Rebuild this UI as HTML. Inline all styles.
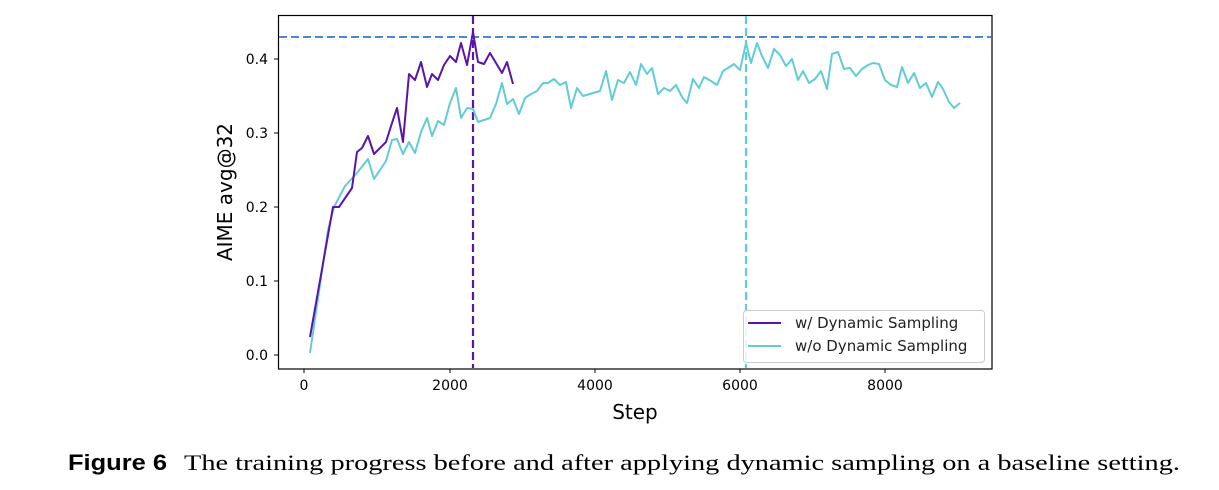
<!DOCTYPE html>
<html><head><meta charset="utf-8"><style>
html,body{margin:0;padding:0;background:#fff;width:1219px;height:490px;overflow:hidden}
</style></head><body>
<svg width="1219" height="490" viewBox="0 0 1219 490" xmlns="http://www.w3.org/2000/svg">
<g font-family="'DejaVu Sans',sans-serif" font-size="14" fill="#000">
<rect x="278.5" y="15.5" width="713.5" height="353.5" fill="none" stroke="#000" stroke-width="1.2"/>
<g stroke="#000" stroke-width="1">
<line x1="274" y1="355" x2="278" y2="355"/><line x1="274" y1="281" x2="278" y2="281"/>
<line x1="274" y1="207" x2="278" y2="207"/><line x1="274" y1="133" x2="278" y2="133"/>
<line x1="274" y1="59" x2="278" y2="59"/>
<line x1="304" y1="369" x2="304" y2="373"/><line x1="450" y1="369" x2="450" y2="373"/>
<line x1="595" y1="369" x2="595" y2="373"/><line x1="740" y1="369" x2="740" y2="373"/>
<line x1="885" y1="369" x2="885" y2="373"/>
</g>
<g text-anchor="end">
<text x="268" y="360">0.0</text><text x="268" y="286">0.1</text><text x="268" y="212">0.2</text>
<text x="268" y="138">0.3</text><text x="268" y="64">0.4</text>
</g>
<g text-anchor="middle">
<text x="304" y="390">0</text><text x="450" y="390">2000</text><text x="595" y="390">4000</text>
<text x="740" y="390">6000</text><text x="885" y="390">8000</text>
<text x="635" y="419" font-size="20">Step</text>
<text transform="translate(232,192) rotate(-90)" font-size="20">AIME avg@32</text>
</g>
<line x1="279" y1="37" x2="991" y2="37" stroke="#4a88dc" stroke-width="2" stroke-dasharray="8,4"/>
<line x1="473" y1="16" x2="473" y2="368" stroke="#5b14a8" stroke-width="2.2" stroke-dasharray="8,4"/>
<line x1="746" y1="16" x2="746" y2="368" stroke="#62ccd6" stroke-width="2.2" stroke-dasharray="8,4"/>
<polyline fill="none" stroke="#62ccd6" stroke-width="2" stroke-linejoin="round" points="310,353 328,230 334,207 345,186 357,173 368,159 374,179 386,161 392,140 397,139 403,154 409,142 415,153 421,132 427,118 432,136 438,121 444,125 450,103 456,88 461,118 467,108 473,109 478,122 490,118 496,104 502,83 507,104 513,99 519,114 525,98 531,94 537,91 543,83 548,83 554,79 560,85 566,82 571,108 577,88 583,96 600,91 606,71 612,100 618,80 624,83 630,72 636,85 641,64 647,74 652,68 658,94 664,88 670,91 676,85 682,97 687,103 693,79 699,88 704,77 711,81 717,85 723,71 728,68 734,64 740,70 746,43 751,63 757,43 762,56 768,68 774,49 780,55 786,66 792,59 798,80 803,71 809,83 815,79 821,71 827,89 832,54 838,52 844,69 850,68 856,76 862,69 868,65 873,63 879,64 885,80 891,85 897,87 902,67 908,83 914,73 920,88 926,83 932,97 938,82 943,89 949,102 954,108 960,103"/>
<polyline fill="none" stroke="#5b14a8" stroke-width="2" stroke-linejoin="round" points="310,337 333,207 339,207 352,188 357,152 362,148 368,136 374,154 386,142 392,123 397,108 403,142 409,74 415,80 421,62 427,87 432,74 438,80 444,65 450,56 456,62 461,43 467,65 473,32 478,62 484,64 490,53 496,63 502,73 507,62 513,84"/>
<rect x="743.5" y="310.5" width="241" height="52" rx="3" fill="#fff" fill-opacity="0.85" stroke="#ccc"/>
<line x1="748" y1="323" x2="781" y2="323" stroke="#5b14a8" stroke-width="2"/>
<line x1="748" y1="346" x2="781" y2="346" stroke="#62ccd6" stroke-width="2"/>
<text x="795" y="328" font-size="15" fill="#222">w/ Dynamic Sampling</text>
<text x="795" y="351" font-size="15" fill="#222">w/o Dynamic Sampling</text>
</g>
<text x="68" y="470" font-size="22" font-family="'Liberation Sans',sans-serif" font-weight="bold" textLength="99" lengthAdjust="spacingAndGlyphs">Figure 6</text>
<text x="184" y="470" font-size="22" font-family="'Liberation Serif',serif" textLength="996" lengthAdjust="spacingAndGlyphs">The training progress before and after applying dynamic sampling on a baseline setting.</text>
</svg>
</body></html>
